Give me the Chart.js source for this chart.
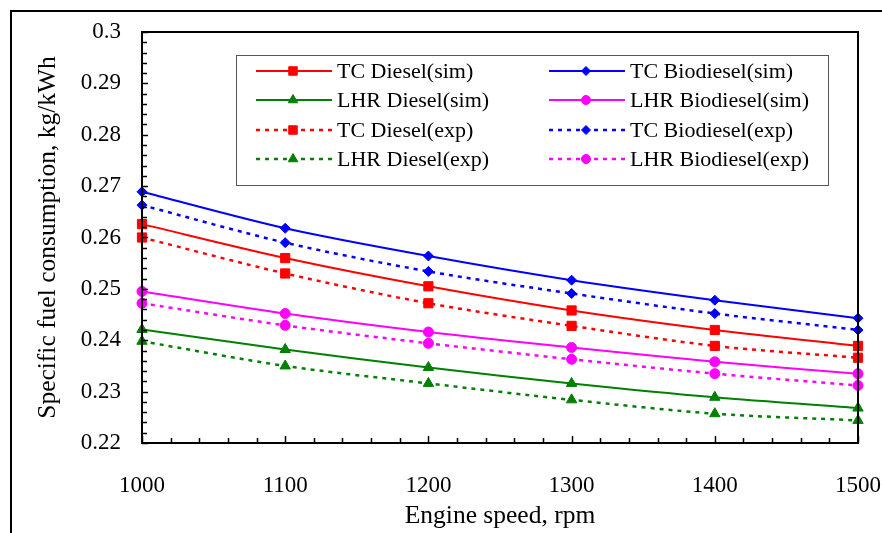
<!DOCTYPE html>
<html>
<head>
<meta charset="utf-8">
<script src="https://cdn.jsdelivr.net/npm/chart.js@4"></script>
<style>
  html, body { margin: 0; padding: 0; background: #fff; }
  #wrap { width: 882px; height: 533px; position: relative; }
</style>
</head>
<body>
<div id="wrap"><canvas id="sfcChart"></canvas></div>
<script>
// engine speed, rpm
var speeds = [1000, 1100, 1200, 1300, 1400, 1500];

// specific fuel consumption, kg/kWh
var tcDieselSim   = [0.2626, 0.2560, 0.2505, 0.2458, 0.2420, 0.2389];
var tcBioSim      = [0.2689, 0.2618, 0.2564, 0.2517, 0.2478, 0.2443];
var lhrDieselSim  = [0.2421, 0.2382, 0.2347, 0.2316, 0.2289, 0.2268];
var lhrBioSim     = [0.2495, 0.2452, 0.2416, 0.2386, 0.2358, 0.2335];
var tcDieselExp   = [0.2600, 0.2530, 0.2472, 0.2428, 0.2389, 0.2366];
var tcBioExp      = [0.2663, 0.2590, 0.2534, 0.2491, 0.2452, 0.2420];
var lhrDieselExp  = [0.2398, 0.2350, 0.2316, 0.2284, 0.2257, 0.2244];
var lhrBioExp     = [0.2472, 0.2429, 0.2394, 0.2363, 0.2335, 0.2312];

var yTicks = [0.22, 0.23, 0.24, 0.25, 0.26, 0.27, 0.28, 0.29, 0.3];

var FONT = "'Liberation Serif', 'Times New Roman', serif";

function pts(arr) {
  return arr.map(function (v, i) { return { x: speeds[i], y: v }; });
}

function makeSet(label, arr, color, style, radius, dashed) {
  return {
    label: label,
    data: pts(arr),
    borderColor: color,
    backgroundColor: color,
    pointBackgroundColor: color,
    pointBorderColor: color,
    pointBorderWidth: 1,
    pointStyle: style,
    pointRadius: radius,
    borderWidth: dashed ? 2.5 : 2,
    borderDash: dashed ? [4, 5] : [],
    tension: 0.3,
    fill: false,
    clip: false
  };
}

const dataSfc = {
  datasets: [
    makeSet('TC Diesel(sim)', tcDieselSim, '#ff0000', 'rect', 6.5, false),
    makeSet('TC Biodiesel(sim)', tcBioSim, '#0000ff', 'rectRot', 5, false),
    makeSet('LHR Diesel(sim)', lhrDieselSim, '#008000', 'triangle', 6, false),
    makeSet('LHR Biodiesel(sim)', lhrBioSim, '#ff00ff', 'circle', 5, false),
    makeSet('TC Diesel(exp)', tcDieselExp, '#ff0000', 'rect', 6.5, true),
    makeSet('TC Biodiesel(exp)', tcBioExp, '#0000ff', 'rectRot', 5, true),
    makeSet('LHR Diesel(exp)', lhrDieselExp, '#008000', 'triangle', 6, true),
    makeSet('LHR Biodiesel(exp)', lhrBioExp, '#ff00ff', 'circle', 5, true)
  ]
};

// frame, inward ticks and the boxed two-column legend
const framePlugin = {
  id: 'framePlugin',
  afterDraw: function (chart) {
    var ctx = chart.ctx;
    var a = chart.chartArea;
    var xs = chart.scales.x, ys = chart.scales.y;
    ctx.save();

    // outer border of the figure
    ctx.strokeStyle = '#000';
    ctx.lineWidth = 2;
    ctx.strokeRect(11, 11, 1000, 1000);

    // plot box
    ctx.lineWidth = 2;
    ctx.strokeRect(a.left, a.top, a.right - a.left, a.bottom - a.top);

    // y ticks (every 0.002, major every 0.01)
    ctx.lineWidth = 1.5;
    ctx.beginPath();
    for (var k = 0; k <= 40; k++) {
      var yv = 0.22 + k * 0.002;
      var py = Math.round(ys.getPixelForValue(yv)) + 0.5;
      var len = (k % 5 === 0) ? 6 : 5;
      ctx.moveTo(a.left, py);
      ctx.lineTo(a.left + len, py);
    }
    // x ticks (every 20 rpm, major every 100)
    for (var j = 0; j <= 25; j++) {
      var xv = 1000 + j * 20;
      var px = Math.round(xs.getPixelForValue(xv)) + 0.5;
      var l2 = (j % 5 === 0) ? 7 : 5;
      ctx.moveTo(px, a.bottom);
      ctx.lineTo(px, a.bottom - l2);
    }
    ctx.stroke();

    // legend
    var box = { left: 236, top: 55, right: 828, bottom: 185 };
    ctx.lineWidth = 1;
    ctx.strokeStyle = '#555';
    ctx.strokeRect(box.left + 0.5, box.top + 0.5, box.right - box.left, box.bottom - box.top);

    var cols = [256, 549];
    var rows = [71, 100, 130, 159];
    var order = [[0, 2, 4, 6], [1, 3, 5, 7]];
    ctx.font = '22px ' + FONT;
    ctx.textBaseline = 'middle';
    ctx.textAlign = 'left';
    order.forEach(function (col, ci) {
      col.forEach(function (dsIndex, ri) {
        var ds = chart.data.datasets[dsIndex];
        var x0 = cols[ci], y0 = rows[ri];
        ctx.strokeStyle = ds.borderColor;
        ctx.lineWidth = ds.borderWidth;
        ctx.setLineDash(ds.borderDash);
        ctx.beginPath();
        ctx.moveTo(x0, y0);
        ctx.lineTo(x0 + 76, y0);
        ctx.stroke();
        ctx.setLineDash([]);
        ctx.fillStyle = ds.borderColor;
        ctx.lineWidth = 1;
        Chart.helpers.drawPoint(ctx, {
          pointStyle: ds.pointStyle,
          radius: ds.pointRadius - 0.5,
          borderWidth: 1,
          rotation: 0
        }, x0 + 37, y0);
        ctx.fillStyle = '#000';
        ctx.fillText(ds.label, x0 + 81, y0 + 1);
      });
    });
    ctx.restore();
  }
};

const ctxEl = document.getElementById('sfcChart');
const sfcChart = new Chart(ctxEl, {
  type: 'line',
  data: dataSfc,
  plugins: [framePlugin],
  options: {
    responsive: true,
    maintainAspectRatio: false,
    animation: { duration: 0 },
    events: [],
    layout: { padding: { left: 33, top: 32, right: 24, bottom: 1 } },
    plugins: {
      legend: { display: false },
      tooltip: { enabled: false }
    },
    scales: {
      x: {
        type: 'linear',
        min: 1000,
        max: 1500,
        afterFit: function (scale) {
          scale.height = 89;
          scale.paddingLeft = 0;
          scale.paddingRight = 0;
        },
        afterBuildTicks: function (scale) {
          scale.ticks = speeds.map(function (v) { return { value: v }; });
        },
        grid: { display: false, drawTicks: false },
        border: { display: false },
        ticks: {
          padding: 29,
          color: '#000',
          font: { family: FONT, size: 23 },
          callback: function (v) { return String(v); }
        },
        title: {
          display: true,
          text: 'Engine speed, rpm',
          color: '#000',
          padding: 0,
          font: { family: FONT, size: 25.5 }
        }
      },
      y: {
        type: 'linear',
        min: 0.22,
        max: 0.3,
        afterFit: function (scale) {
          scale.width = 109;
          scale.paddingTop = 0;
          scale.paddingBottom = 0;
        },
        afterBuildTicks: function (scale) {
          scale.ticks = yTicks.map(function (v) { return { value: v }; });
        },
        grid: { display: false, drawTicks: false },
        border: { display: false },
        ticks: {
          padding: 21,
          color: '#000',
          font: { family: FONT, size: 23 },
          callback: function (v) { return String(+v.toFixed(2)); }
        },
        title: {
          display: true,
          text: 'Specific fuel consumption, kg/kWh',
          color: '#000',
          padding: 0,
          font: { family: FONT, size: 25.5 }
        }
      }
    }
  }
});
</script>
</body>
</html>
